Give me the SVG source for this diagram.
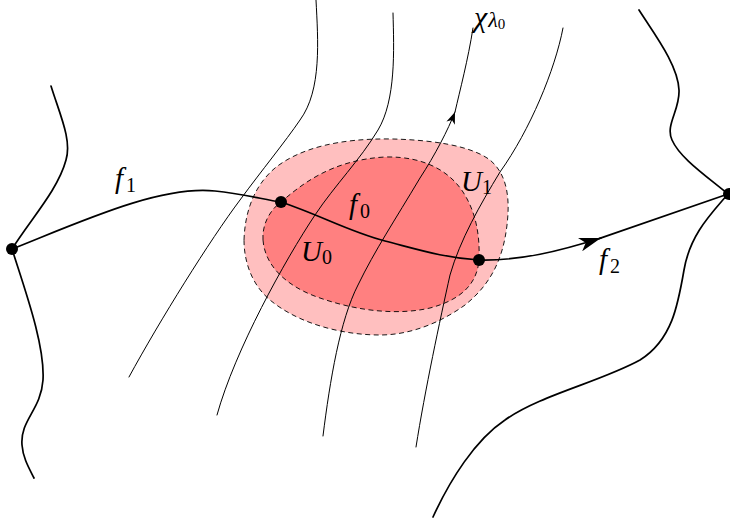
<svg xmlns="http://www.w3.org/2000/svg" width="730" height="522" viewBox="0 0 730 522">
<style>
.thick{fill:none;stroke:#000;stroke-width:1.7;stroke-linecap:round}
.thin{fill:none;stroke:#000;stroke-width:1;stroke-linecap:round}
.dash{stroke:#000;stroke-width:0.9;stroke-dasharray:5 3.5}
.dot{fill:#000}
.lbl{font-family:"Liberation Serif","DejaVu Serif",serif;font-style:italic;font-size:29px;fill:#000}
.sub{font-family:"Liberation Serif","DejaVu Serif",serif;font-style:normal;font-size:20px;fill:#000}
.chi{font-family:"Liberation Serif","DejaVu Serif",serif;font-style:italic;font-size:30px;fill:#000}
.subi{font-family:"Liberation Serif","DejaVu Serif",serif;font-style:italic;font-size:22px;fill:#000}
.subsub{font-family:"Liberation Serif","DejaVu Serif",serif;font-style:normal;font-size:15px;fill:#000}
</style>
<defs>
<marker id="big" markerUnits="userSpaceOnUse" viewBox="0 0 24 14" refX="22" refY="7" markerWidth="24" markerHeight="14" orient="auto">
<path d="M22,7 L0,0 L6,7 L0,14 Z" fill="#000"/>
</marker>
<marker id="small" markerUnits="userSpaceOnUse" viewBox="0 0 13 9" refX="12" refY="4.5" markerWidth="13" markerHeight="9" orient="auto">
<path d="M12,4.5 L0,0 L3.5,4.5 L0,9 Z" fill="#000"/>
</marker>
</defs>

<g id="U1">
<path class="dash" fill="#FFBFBF" d="M244,240 C245,210 255,185 275,168 C300,148 340,138 393,139 C430,140 470,145 490,160 C508,175 510,200 507,225 C503,260 490,285 465,305 C440,323 410,335 380,335 C345,335 300,325 270,300 C252,285 244,262 244,240 Z"/>
</g>
<g id="U0">
<path class="dash" fill="#FF8080" d="M263,240 C262,224 270,210 281,202 C300,186 330,160 385,157 C425,156 450,172 463,192 C476,212 480,235 479,260 C477,285 460,300 430,308 C400,315 360,312 320,298 C290,288 265,268 263,240 Z"/>
</g>

<g id="connectors">
<path id="boundary-left" class="thick" d="M51,86 C60,115 72,140 66,160 C58,190 30,220 12,249 C25,290 45,345 43,380 C41,410 20,420 22,445 C23,458 29,468 34,478"/>
<path id="boundary-right" class="thick" d="M639,10 C655,35 678,65 679,90 C680,110 665,125 672,140 C680,158 705,175 728,194 C710,215 690,235 684,270 C678,305 672,340 640,360 C600,382 540,395 505,420 C475,440 450,480 433,517"/>
<path id="flow1" class="thin" d="M316,0 C318,40 322,90 300,120 C285,142 262,170 240,200 C210,240 160,320 129,377"/>
<path id="flow2" class="thin" d="M393,13 C394,50 396,100 378,130 C360,160 335,185 315,215 C285,260 235,350 217,415"/>
<path id="flow3a" class="thin" marker-end="url(#small)" d="M323,436 C330,380 340,320 358,285 C375,250 395,220 420,178 C435,155 448,130 455,112"/>
<path id="flow3b" class="thin" d="M455,112 C460,90 468,60 473,28"/>
<path id="flow4" class="thin" d="M563,28 C555,70 530,130 500,172 C480,205 460,240 450,275 C440,320 425,390 416,447"/>
<path id="f1" class="thick" d="M12,249 C80,222 160,185 215,191 C245,194 265,200 281,202"/>
<path id="f0" class="thick" d="M281,202 C320,215 350,232 385,241 C420,250 445,258 479,260"/>
<path id="f2a" class="thick" marker-end="url(#big)" d="M479,260 C520,261 560,251 601,238"/>
<path id="f2b" class="thick" d="M599,238.6 L728,194"/>
</g>

<g id="node-left"><circle class="dot" cx="12" cy="249" r="6"/></g>
<g id="node-p1"><circle class="dot" cx="281" cy="202" r="6"/></g>
<g id="node-p2"><circle class="dot" cx="479" cy="260" r="6"/></g>
<g id="node-right"><circle class="dot" cx="729" cy="194" r="6"/></g>

<g id="labels">
<text class="lbl" x="115" y="188">f<tspan class="sub" dx="3" dy="4">1</tspan></text>
<text class="lbl" x="349" y="214">f<tspan class="sub" dx="3" dy="4">0</tspan></text>
<text class="lbl" x="301" y="261">U<tspan class="sub" dx="0" dy="3">0</tspan></text>
<text class="lbl" x="461" y="191">U<tspan class="sub" dx="0" dy="3">1</tspan></text>
<text class="lbl" x="599" y="269">f<tspan class="sub" dx="3" dy="4">2</tspan></text>
<text class="chi" x="474" y="27">χ<tspan class="subi" dx="1" dy="0">λ</tspan><tspan class="subsub" dy="2">0</tspan></text>
</g>
</svg>
